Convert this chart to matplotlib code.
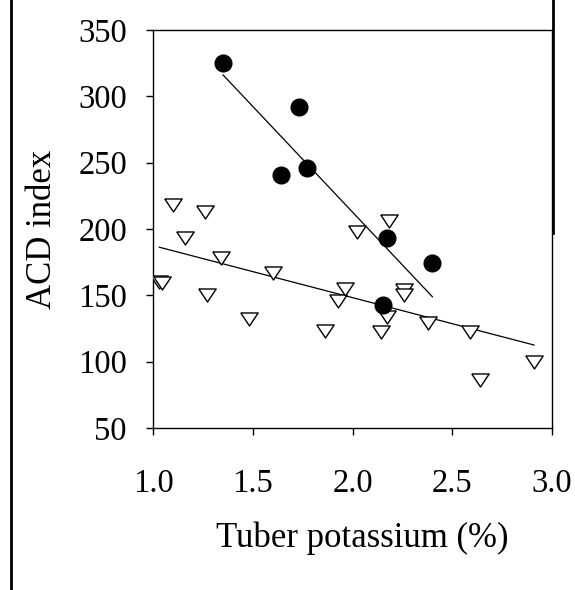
import matplotlib
matplotlib.use('Agg')
import matplotlib.pyplot as plt
import numpy as np
from matplotlib.lines import Line2D

# filled circles
circle_k = [1.35, 1.73, 1.64, 1.77, 2.17, 2.40, 2.15]
circle_acd = [325, 292, 241, 246, 193, 174, 143]

# open triangles
tri_k = [1.03, 1.045, 1.10, 1.16, 1.26, 1.27, 1.34, 1.48, 1.60, 1.86, 1.925,
         1.96, 2.02, 2.14, 2.17, 2.18, 2.26, 2.26, 2.38, 2.59, 2.64, 2.91]
tri_acd = [160, 159, 218, 193, 213, 150, 178, 132, 167, 123, 146,
           155, 198, 122, 134, 206, 154, 150, 129, 122, 86, 100]

x_ticks = [1.0, 1.5, 2.0, 2.5, 3.0]
y_ticks = [50, 100, 150, 200, 250, 300, 350]

plt.rcParams['font.family'] = ['Liberation Serif', 'DejaVu Serif']

fig = plt.figure(figsize=(5.75, 5.9), dpi=100)
ax = fig.add_axes([0.2666, 0.2746, 0.6934, 0.6746])

# regression lines over each data range
for xs, ys in [(circle_k, circle_acd), (tri_k, tri_acd)]:
    xs = np.array(xs)
    b, a = np.polyfit(xs, np.array(ys), 1)
    xl = np.array([xs.min(), xs.max()])
    ax.plot(xl, a + b * xl, color='black', lw=0.9, zorder=2)

tri_marker = [(-1, 0.75), (1, 0.75), (0, -0.75), (-1, 0.75)]
ax.plot(tri_k, tri_acd, linestyle='none', marker=tri_marker, ms=12.5,
        mfc='white', mec='black', mew=1.0, zorder=3)
ax.plot(circle_k, circle_acd, linestyle='none', marker='o', ms=12,
        mfc='black', mec='black', zorder=4)

ax.set_xlim(1.0, 3.0)
ax.set_ylim(50, 350)
ax.set_xticks(x_ticks)
ax.set_xticklabels(['%.1f' % v for v in x_ticks])
ax.set_yticks(y_ticks)
ax.tick_params(direction='out', length=5, width=1, labelsize=23.5, colors='black')
ax.tick_params(axis='y', pad=14)
ax.tick_params(axis='x', pad=24)
for s in ax.spines.values():
    s.set_linewidth(1.0)

ax.set_xlabel('Tuber potassium (%)', fontsize=25)
ax.xaxis.label.set_va('center')
ax.xaxis.set_label_coords(0.523, -0.276)
ax.set_ylabel('ACD index', fontsize=25)
ax.yaxis.label.set_va('center')
ax.yaxis.set_label_coords(-0.279, 0.5)

# page frame pieces around the panel
fig.add_artist(Line2D([11 / 575, 11 / 575], [0, 1], color='black', lw=2))
fig.add_artist(Line2D([553 / 575, 553 / 575], [1, 1 - 233 / 590], color='black', lw=2))

fig.savefig('out.png', dpi=100)
